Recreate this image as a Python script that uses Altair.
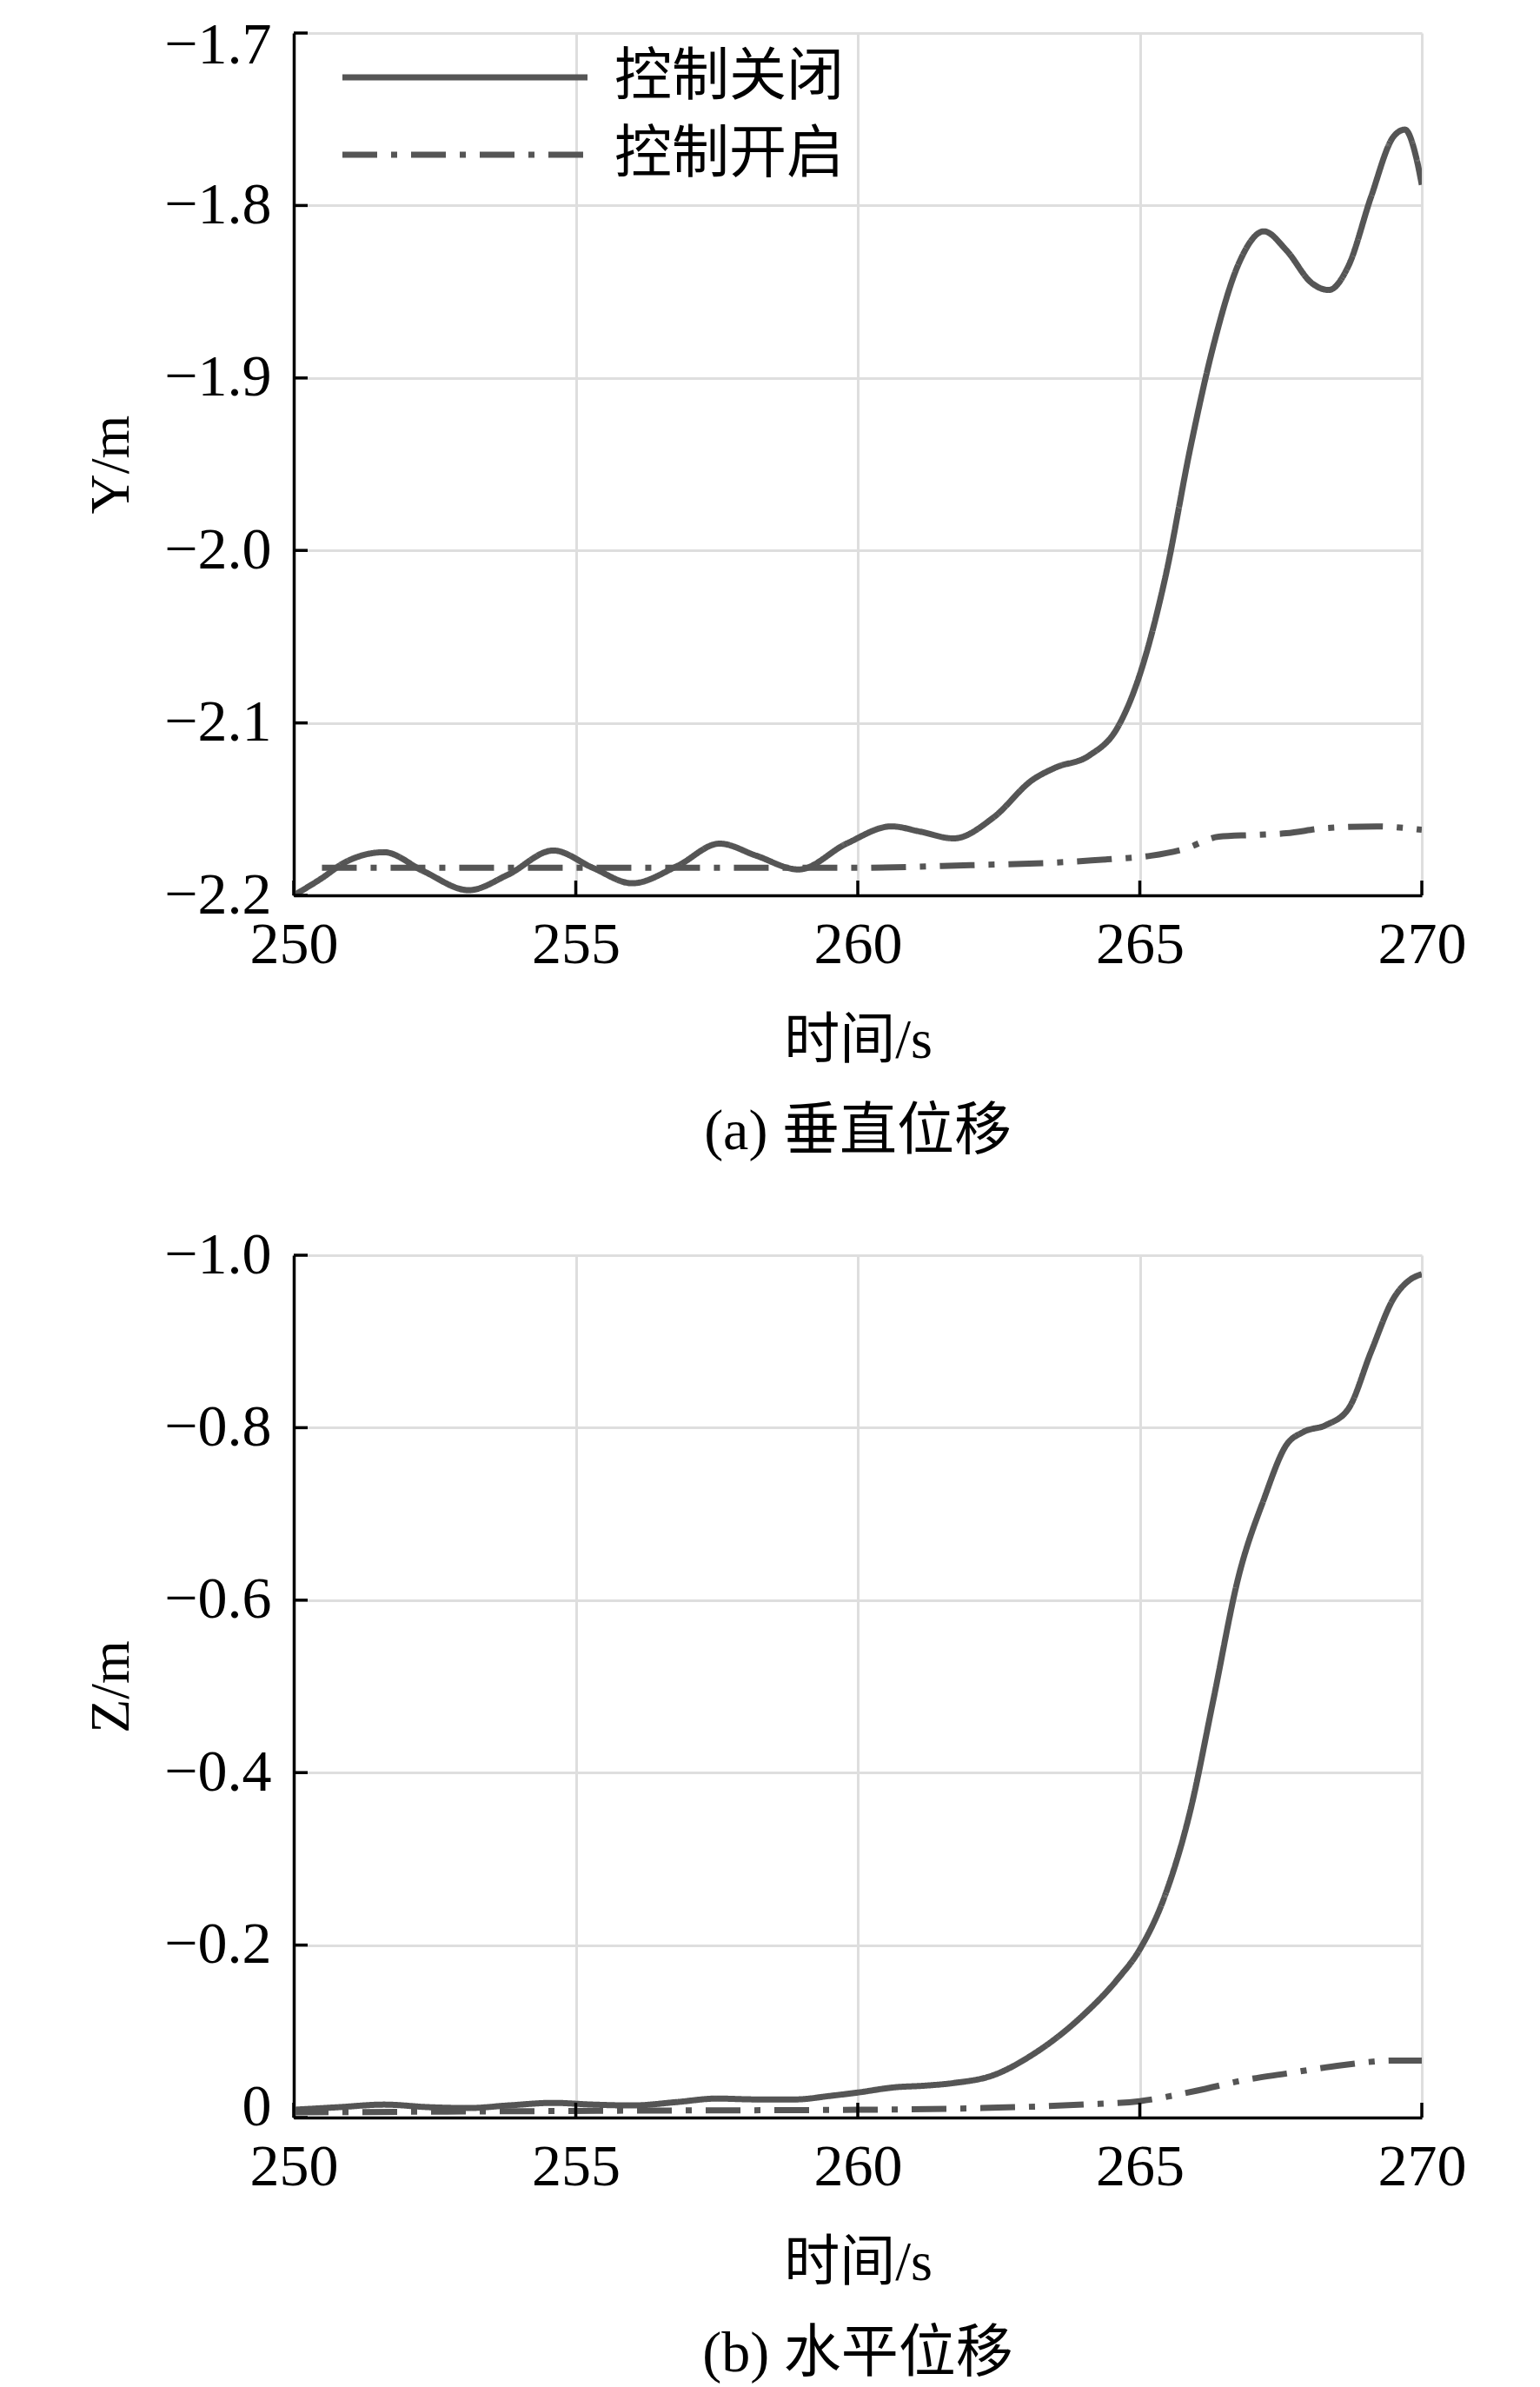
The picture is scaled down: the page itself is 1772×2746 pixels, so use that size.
import altair as alt
import pandas as pd

SERIES = ["控制关闭", "控制开启"]

# Panel (a): vertical displacement Y/m
A_OFF_T = [250.0, 250.5, 250.9, 251.6, 252.3, 253.1, 253.8, 254.6, 255.3, 256.0,
           256.8, 257.55, 258.2, 258.95, 259.8, 260.6, 261.1, 261.7, 262.4, 263.1,
           263.5, 264.1, 264.6, 265.0, 265.45, 265.9, 266.3, 266.75, 267.2, 267.6,
           268.05, 268.35, 268.7, 269.1, 269.5, 269.7, 269.9, 270.0]
A_OFF_Y = [-2.200, -2.190, -2.181, -2.175, -2.186, -2.197, -2.188, -2.174, -2.184, -2.193,
           -2.183, -2.170, -2.177, -2.185, -2.170, -2.160, -2.163, -2.167, -2.155, -2.133,
           -2.126, -2.119, -2.103, -2.072, -2.016, -1.940, -1.882, -1.834, -1.815, -1.826,
           -1.845, -1.849, -1.835, -1.795, -1.760, -1.756, -1.772, -1.788]
A_ON_T = [250.5, 252.0, 255.0, 258.0, 260.0, 262.0, 263.5, 264.5, 265.2, 265.8,
          266.4, 267.0, 267.6, 268.3, 269.2, 270.0]
A_ON_Y = [-2.184, -2.184, -2.184, -2.184, -2.184, -2.1825, -2.181, -2.179, -2.177, -2.173,
          -2.166, -2.165, -2.164, -2.161, -2.160, -2.162]

# Panel (b): horizontal displacement Z/m
B_OFF_T = [250.0, 250.8, 251.6, 252.4, 253.1, 253.8, 254.6, 255.3, 256.0, 256.8,
           257.5, 258.2, 258.9, 259.5, 260.0, 260.65, 261.2, 261.7, 262.4, 263.1,
           264.0, 264.6, 265.0, 265.45, 265.9, 266.3, 266.75, 267.2, 267.6, 267.9,
           268.3, 268.7, 269.1, 269.5, 269.8, 270.0]
B_OFF_Y = [-0.009, -0.012, -0.015, -0.012, -0.011, -0.014, -0.017, -0.015, -0.014, -0.018,
           -0.022, -0.021, -0.021, -0.025, -0.029, -0.035, -0.037, -0.040, -0.049, -0.073,
           -0.119, -0.160, -0.195, -0.258, -0.357, -0.483, -0.627, -0.717, -0.780, -0.795,
           -0.803, -0.822, -0.888, -0.950, -0.972, -0.978]
B_ON_T = [250.0, 253.0, 256.0, 260.0, 262.2, 264.0, 265.0, 266.0, 266.9, 267.6,
          268.5, 269.5, 270.0]
B_ON_Y = [-0.006, -0.007, -0.008, -0.009, -0.011, -0.015, -0.019, -0.031, -0.044, -0.051,
          -0.060, -0.066, -0.066]

X_TICKS = [250, 255, 260, 265, 270]
YA_TICKS = [-1.7, -1.8, -1.9, -2.0, -2.1, -2.2]
YB_TICKS = [-1.0, -0.8, -0.6, -0.4, -0.2, 0.0]

W, H = 1298, 992
LINE = "#555555"
SERIF = "Liberation Serif"
CJK = "Noto Sans CJK SC"
MIX = "Liberation Serif, Noto Sans CJK SC"


def make_df(t_off, y_off, t_on, y_on):
    return pd.DataFrame({
        "t": t_off + t_on,
        "v": y_off + y_on,
        "s": [SERIES[0]] * len(t_off) + [SERIES[1]] * len(t_on),
    })


def panel(df, ydomain, yticks, ytitle, caption, reverse, label_expr, ylab_off):
    xs = alt.Scale(domain=[250, 270], nice=False, zero=False)
    ys = alt.Scale(domain=ydomain, nice=False, zero=False, reverse=reverse)
    xax = alt.Axis(values=X_TICKS, title="时间/s", format="d", labelFlush=False)
    yax = alt.Axis(values=yticks, title=ytitle, labelExpr=label_expr, labelFlush=False,
                   labelOffset=ylab_off)
    lines = alt.Chart(df).mark_line(strokeWidth=7, color=LINE, interpolate="monotone",
                                    clip=True).encode(
        x=alt.X("t:Q", scale=xs, axis=xax),
        y=alt.Y("v:Q", scale=ys, axis=yax),
        strokeDash=alt.StrokeDash(
            "s:N",
            scale=alt.Scale(domain=SERIES, range=[[1, 0], [40, 16, 7, 16]]),
            legend=alt.Legend(orient="none", legendX=23, legendY=18, title=None,
                              symbolType="M0,0H10", symbolSize=3181,
                              symbolStrokeWidth=7, symbolStrokeColor=LINE,
                              symbolFillColor="transparent",
                              labelFont=CJK, labelFontSize=66, labelColor="black",
                              labelOffset=280, labelLimit=0, rowPadding=23, padding=0),
        ),
    )
    xt = alt.Chart(pd.DataFrame({"t": X_TICKS})).mark_rule(color="black", strokeWidth=3.5).encode(
        x=alt.X("t:Q", scale=xs, axis=xax), y=alt.value(H), y2=alt.value(H - 17))
    yt = alt.Chart(pd.DataFrame({"v": yticks})).mark_rule(color="black", strokeWidth=3.5).encode(
        y=alt.Y("v:Q", scale=ys, axis=yax), x=alt.value(0), x2=alt.value(16))
    return alt.layer(lines, xt, yt).properties(
        width=W, height=H,
        title=alt.TitleParams(caption, orient="bottom", anchor="middle", frame="group",
                              font=MIX, fontSize=66, fontWeight="normal", color="black",
                              offset=41),
    )


df_a = make_df(A_OFF_T, A_OFF_Y, A_ON_T, A_ON_Y)
df_b = make_df(B_OFF_T, B_OFF_Y, B_ON_T, B_ON_Y)

pa = panel(df_a, [-2.2, -1.7], YA_TICKS, "Y/m", "(a) 垂直位移", False,
           "format(datum.value, '.1f')",
           {"condition": {"test": "datum.value > -1.75", "value": 14}, "value": 0})
pb = panel(df_b, [-1.0, 0.0], YB_TICKS, "Z/m", "(b) 水平位移", True,
           "datum.value == 0 ? '0' : format(datum.value, '.1f')",
           {"condition": {"test": "datum.value > -0.05", "value": -12}, "value": 0})

chart = alt.vconcat(pa, pb, spacing=75).properties(
    padding={"left": 88, "top": 10, "right": 20, "bottom": 4},
    background="white",
).configure_view(stroke=None).configure_axis(
    domainColor="black", domainWidth=3.5, ticks=False,
    gridColor="#dedede", gridWidth=3,
    labelFont=SERIF, labelFontSize=68, labelColor="black",
    titleFont=MIX, titleFontSize=64, titleFontWeight="normal", titleColor="black",
).configure_axisX(labelPadding=23, titlePadding=44).configure_axisY(
    labelPadding=26, titlePadding=28)

chart.save("out.html", embed_options={"renderer": "svg", "actions": False})
